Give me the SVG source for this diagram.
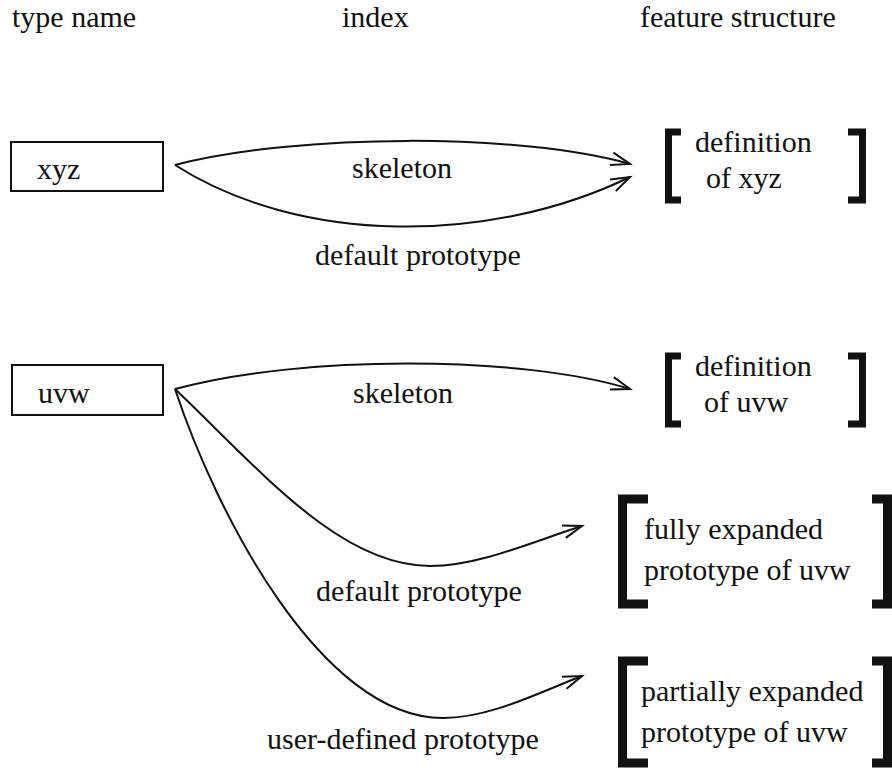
<svg xmlns="http://www.w3.org/2000/svg" width="892" height="770" viewBox="0 0 892 770">
<style>
text{font-family:"Liberation Serif","Times New Roman",serif;fill:#111;font-size:30px;}
.box{fill:#fff;stroke:#111;stroke-width:2;}
.c{fill:none;stroke:#111;stroke-width:2;}
.br{fill:none;stroke:#111;stroke-width:7;stroke-linecap:butt;}
.bb{fill:none;stroke:#111;stroke-width:9;stroke-linecap:butt;}
</style>
<defs>
<marker id="ah" markerWidth="24" markerHeight="16" refX="20" refY="8" orient="auto" markerUnits="userSpaceOnUse">
<path d="M1,1.5 L20,8 L1,14.5" fill="none" stroke="#111" stroke-width="2"/>
</marker>
</defs>
<rect width="892" height="770" fill="#fff"/>
<g id="headers">
<text x="12" y="27">type name</text>
<text x="342" y="27">index</text>
<text x="640" y="27">feature structure</text>
</g>
<g id="node-xyz">
<rect class="box" x="11" y="142" width="152" height="49"/>
<text x="37" y="179">xyz</text>
</g>
<g id="node-uvw">
<rect class="box" x="12" y="365" width="151" height="50"/>
<text x="38" y="403">uvw</text>
</g>
<g id="fs-def-xyz">
<path class="br" d="M681,132 L668.5,132 L668.5,200 L681,200"/>
<path class="br" d="M848,132 L862.5,132 L862.5,200 L848,200"/>
<text x="695" y="152">definition</text>
<text x="706" y="188">of xyz</text>
</g>
<g id="fs-def-uvw">
<path class="br" d="M681,356 L668.5,356 L668.5,424 L681,424"/>
<path class="br" d="M848,356 L862.5,356 L862.5,424 L848,424"/>
<text x="695" y="376">definition</text>
<text x="704" y="412">of uvw</text>
</g>
<g id="fs-full-uvw">
<path class="bb" d="M648,499 L622.5,499 L622.5,604 L648,604"/>
<path class="bb" d="M872,499 L887.5,499 L887.5,604 L872,604"/>
<text x="644" y="539">fully expanded</text>
<text x="644" y="580">prototype of uvw</text>
</g>
<g id="fs-partial-uvw">
<path class="bb" d="M648,661 L622.5,661 L622.5,763 L648,763"/>
<path class="bb" d="M872,661 L887.5,661 L887.5,763 L872,763"/>
<text x="641" y="701">partially expanded</text>
<text x="641" y="742">prototype of uvw</text>
</g>
<g id="connectors">
<path class="c" d="M175,165 C300,133 520,133 630,164" marker-end="url(#ah)"/>
<path class="c" d="M175,165 C300,245 490,245 630,177" marker-end="url(#ah)"/>
<path class="c" d="M175,389 C300,355 520,355 630,389" marker-end="url(#ah)"/>
<path class="c" d="M175,389 C260,470 340,566 430,566 C480,566 540,539 582,526" marker-end="url(#ah)"/>
<path class="c" d="M175,389 C215,510 320,718 443,718 C490,718 540,692 582,676" marker-end="url(#ah)"/>
</g>
<g id="labels">
<text x="402" y="178" text-anchor="middle">skeleton</text>
<text x="418" y="265" text-anchor="middle">default prototype</text>
<text x="403" y="403" text-anchor="middle">skeleton</text>
<text x="419" y="601" text-anchor="middle">default prototype</text>
<text x="403" y="749" text-anchor="middle">user-defined prototype</text>
</g>
</svg>
